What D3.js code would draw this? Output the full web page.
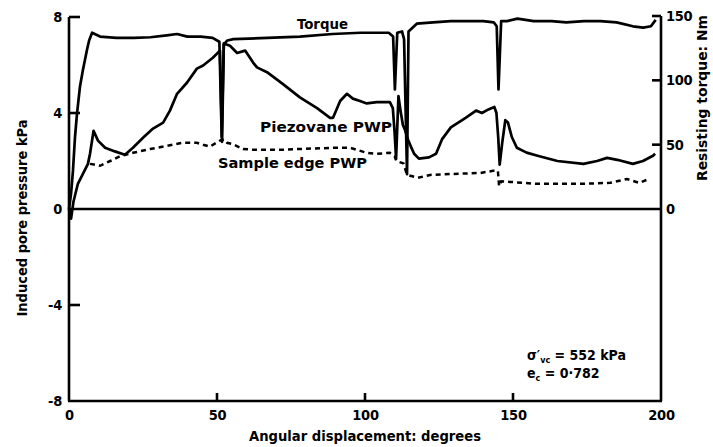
<!DOCTYPE html>
<html>
<head>
<meta charset="utf-8">
<script src="https://cdn.jsdelivr.net/npm/d3@7"></script>
<style>
  html, body { margin: 0; padding: 0; background: #fff; }
  svg text { font-family: "DejaVu Sans Condensed", "Liberation Sans", Arial, sans-serif; font-weight: bold; fill: #000; }
</style>
</head>
<body>
<svg id="chart" width="713" height="447"></svg>
<script>
// Angular displacement (degrees) and resisting torque (Nm)
const torqueDeg = [0, 0.7, 1.35, 2.0, 2.7, 3.7, 4.7, 6.1, 6.8, 7.8, 10.5, 16, 22, 27.5, 33, 36.5, 40, 44.5, 48.5, 50.8, 51.6, 52.3, 53.5, 55.5, 67, 78, 89, 98.5, 106, 108, 109.5, 110.1, 110.9, 112.5, 113.2, 114.2, 114.7, 117.5, 123, 129, 140, 143.5, 144.5, 145.1, 146, 148, 151.5, 157, 163, 168, 174, 179.5, 185, 190.5, 194, 196.6, 198.2];
const torqueNm  = [0, 12, 30, 55, 74, 95, 108, 124, 131, 137, 134, 133, 133, 133.5, 135, 136, 134, 134, 133, 130, 56, 128, 131, 132, 133, 134, 136, 137, 137, 137, 134, 93, 137, 138, 132, 27, 138, 144, 145, 146, 146, 145, 142, 93, 146, 146, 148, 146, 146, 145, 146, 146, 145, 142, 141, 142, 147];

// Piezovane pore water pressure (kPa)
const piezoDeg = [0, 0.7, 1.5, 3, 4.7, 6.4, 7.1, 8.3, 9.8, 12.2, 15.5, 18.9, 21.6, 25, 28.4, 31.8, 34.1, 36.5, 39.9, 43.2, 45.3, 48.6, 51, 51.7, 52.3, 54.4, 56.8, 59.5, 62.2, 63.5, 66.9, 72.3, 78, 83.8, 88.2, 89.2, 91.6, 93.9, 95.9, 98.3, 100.6, 104, 108.4, 109.4, 110, 110.5, 111.3, 112, 112.8, 113.5, 114.5, 115.5, 116.6, 118.2, 121.6, 124, 126, 129, 134, 137.5, 139.5, 141.7, 143.7, 144.4, 145, 145.5, 146.4, 147.4, 148.3, 149.6, 151.3, 154.6, 158.3, 165, 173.8, 178.4, 181.8, 185.2, 190.5, 193.9, 197.3, 198];
const piezoKPa = [0, -0.4, 0.3, 1.05, 1.46, 1.88, 2.3, 3.26, 2.85, 2.55, 2.4, 2.26, 2.55, 2.97, 3.35, 3.6, 4.1, 4.8, 5.27, 5.85, 5.98, 6.3, 6.6, 2.8, 6.9, 6.8, 6.5, 6.6, 6.1, 5.9, 5.7, 5.2, 4.65, 4.2, 3.8, 3.8, 4.5, 4.8, 4.6, 4.5, 4.4, 4.45, 4.45, 4.2, 3.2, 2.1, 4.7, 4.1, 3.5, 3.3, 2.9, 2.6, 2.3, 2.1, 2.15, 2.3, 2.9, 3.4, 3.8, 4.1, 4.0, 4.15, 4.25, 4.0, 3.0, 1.85, 2.8, 3.7, 3.6, 3.0, 2.55, 2.35, 2.22, 2.0, 1.88, 2.0, 2.13, 2.05, 1.88, 2.0, 2.22, 2.3];

// Sample edge pore water pressure (kPa), dashed once it leaves the piezovane trace
const edgeDeg = [7.1, 8.4, 10.5, 13.9, 17.2, 21.6, 27.4, 33.1, 38.5, 43.2, 45.3, 47.6, 51, 52.4, 53.4, 55.4, 58.8, 62.2, 72.3, 78, 89.2, 95, 100.6, 104, 108.4, 110, 110.6, 113, 114, 114.9, 117.9, 122, 129.7, 138.9, 143.2, 144.9, 145.3, 146, 149, 158, 162, 173.8, 182.8, 188.5, 192.6, 196];
const edgeKPa = [1.88, 1.85, 1.8, 2.0, 2.2, 2.34, 2.5, 2.63, 2.76, 2.76, 2.68, 2.6, 2.85, 2.9, 2.76, 2.7, 2.5, 2.47, 2.47, 2.5, 2.55, 2.55, 2.34, 2.3, 2.34, 2.2, 2.0, 1.9, 1.5, 1.4, 1.3, 1.42, 1.46, 1.5, 1.59, 1.59, 0.95, 1.15, 1.13, 1.05, 1.05, 1.05, 1.09, 1.25, 1.09, 1.25];

const xTicks = [0, 50, 100, 150, 200];
const leftTicks = [-8, -4, 0, 4, 8];
const rightTicks = [0, 50, 100, 150];

const svg = d3.select("#chart");

const x = d3.scaleLinear().domain([0, 200]).range([69, 661]);
const yL = d3.scaleLinear().domain([-8, 8]).range([401, 17]);
const yR = d3.scaleLinear().domain([0, 150]).range([yL(0), yL(8) - 1]);

const axisStroke = 2.6;
const tickFont = "14.5px";

function styleAxis(g) {
  g.selectAll("path.domain").remove();
  g.selectAll(".tick line").remove();
  g.selectAll(".tick text").style("font-size", tickFont).style("letter-spacing", "-0.3px");
}

// Frame lines: left, bottom, right (the right one runs the full height)
svg.append("line").attr("x1", x(0)).attr("x2", x(0)).attr("y1", yL(8)).attr("y2", yL(-8))
  .attr("stroke", "#000").attr("stroke-width", axisStroke);
svg.append("line").attr("x1", x(0) - 1).attr("x2", x(200) + 1).attr("y1", yL(-8)).attr("y2", yL(-8))
  .attr("stroke", "#000").attr("stroke-width", axisStroke);
svg.append("line").attr("x1", x(200)).attr("x2", x(200)).attr("y1", yR(150)).attr("y2", yL(-8))
  .attr("stroke", "#000").attr("stroke-width", axisStroke);
// Zero line
svg.append("line").attr("x1", x(0)).attr("x2", x(200)).attr("y1", yL(0)).attr("y2", yL(0))
  .attr("stroke", "#000").attr("stroke-width", 2.4);

// Axis labels
const gLeft = svg.append("g").attr("transform", `translate(${x(0)},0)`)
  .call(d3.axisLeft(yL).tickValues(leftTicks).tickSize(0).tickPadding(7)
    .tickFormat(d => d < 0 ? "-" + Math.abs(d) : String(d)));
styleAxis(gLeft);

const gBottom = svg.append("g").attr("transform", `translate(0,${yL(-8)})`)
  .call(d3.axisBottom(x).tickValues(xTicks).tickSize(0).tickPadding(9).tickFormat(d3.format("d")));
styleAxis(gBottom);

const gRight = svg.append("g").attr("transform", `translate(${x(200)},0)`)
  .call(d3.axisRight(yR).tickValues(rightTicks).tickSize(0).tickPadding(5).tickFormat(d3.format("d")));
styleAxis(gRight);

// Inward tick marks
svg.append("g").selectAll("line").data(leftTicks.filter(d => d !== 0 && d !== -8)).join("line")
  .attr("x1", x(0)).attr("x2", x(0) + 11).attr("y1", d => yL(d)).attr("y2", d => yL(d))
  .attr("stroke", "#000").attr("stroke-width", 2.6);
svg.append("g").selectAll("line").data(xTicks.filter(d => d > 0 && d < 200)).join("line")
  .attr("x1", d => x(d)).attr("x2", d => x(d)).attr("y1", yL(-8)).attr("y2", yL(-8) - 8)
  .attr("stroke", "#000").attr("stroke-width", 2.6);
svg.append("g").selectAll("line").data(rightTicks.filter(d => d > 0)).join("line")
  .attr("x1", x(200)).attr("x2", x(200) - 9).attr("y1", d => yR(d)).attr("y2", d => yR(d))
  .attr("stroke", "#000").attr("stroke-width", 2.6);

// Curves
const line = d3.line().x(d => x(d[0])).y(d => d[1]);

svg.append("path")
  .datum(torqueDeg.map((d, i) => [d, yR(torqueNm[i])]))
  .attr("d", line).attr("fill", "none").attr("stroke", "#000")
  .attr("stroke-width", 2.7).attr("stroke-linejoin", "round");

svg.append("path")
  .datum(piezoDeg.map((d, i) => [d, yL(piezoKPa[i])]))
  .attr("d", line).attr("fill", "none").attr("stroke", "#000")
  .attr("stroke-width", 2.7).attr("stroke-linejoin", "round");

svg.append("path")
  .datum(edgeDeg.map((d, i) => [d, yL(edgeKPa[i])]))
  .attr("d", line).attr("fill", "none").attr("stroke", "#000")
  .attr("stroke-width", 2.5).attr("stroke-dasharray", "5,4");

// Curve labels
function label(txt, cx, cy, size, len) {
  return svg.append("text").attr("x", cx).attr("y", cy)
    .style("font-size", size)
    .attr("textLength", len).attr("lengthAdjust", "spacingAndGlyphs")
    .text(txt);
}
label("Torque", 297, 29, "13.5px", 51);
label("Piezovane PWP", 260, 132, "13.5px", 132);
label("Sample edge PWP", 218, 168, "13.5px", 149);

// Axis titles
svg.append("text").attr("x", (x(0) + x(200)) / 2).attr("y", 441)
  .attr("text-anchor", "middle").style("font-size", "13.5px")
  .attr("textLength", 232).attr("lengthAdjust", "spacingAndGlyphs")
  .text("Angular displacement: degrees");

svg.append("text").attr("transform", "translate(27,218) rotate(-90)")
  .attr("text-anchor", "middle").style("font-size", "13.5px")
  .attr("textLength", 197).attr("lengthAdjust", "spacingAndGlyphs")
  .text("Induced pore pressure kPa");

svg.append("text").attr("transform", "translate(707,98) rotate(-90)")
  .attr("text-anchor", "middle").style("font-size", "13.5px")
  .attr("textLength", 166).attr("lengthAdjust", "spacingAndGlyphs")
  .text("Resisting torque: Nm");

// Test conditions
const t1 = svg.append("text").attr("x", 527).attr("y", 360).style("font-size", "14px");
t1.append("tspan").text("σ′");
t1.append("tspan").attr("dy", 3).style("font-size", "9px").text("vc");
t1.append("tspan").attr("dy", -3).text(" = 552 kPa");

const t2 = svg.append("text").attr("x", 527).attr("y", 378).style("font-size", "14px");
t2.append("tspan").text("e");
t2.append("tspan").attr("dy", 3).style("font-size", "9px").text("c");
t2.append("tspan").attr("dy", -3).text(" = 0·782");
</script>
</body>
</html>
